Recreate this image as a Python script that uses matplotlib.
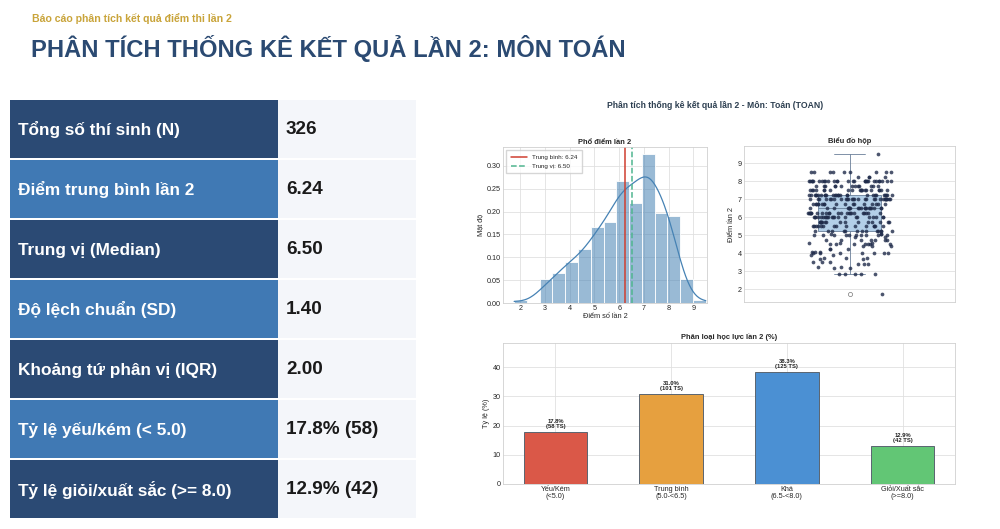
import numpy as np
import matplotlib
matplotlib.use("Agg")
import matplotlib.pyplot as plt
import seaborn as sns
from matplotlib.patches import Rectangle

# ---------------- data ----------------
report_subtitle = "Báo cáo phân tích kết quả điểm thi lần 2"
report_title = "PHÂN TÍCH THỐNG KÊ KẾT QUẢ LẦN 2: MÔN TOÁN"

stat_labels = ["Tổng số thí sinh (N)", "Điểm trung bình lần 2", "Trung vị (Median)",
               "Độ lệch chuẩn (SD)", "Khoảng tứ phân vị (IQR)",
               "Tỷ lệ yếu/kém (< 5.0)", "Tỷ lệ giỏi/xuất sắc (>= 8.0)"]
stat_values = ["326", "6.24", "6.50", "1.40", "2.00", "17.8% (58)", "12.9% (42)"]

score_levels = [1.75, 2.85, 3.2, 3.25, 3.4, 3.5, 3.7, 3.75, 3.9, 4.0, 4.1, 4.25,
                4.4, 4.5, 4.6, 4.75, 4.9, 5.0, 5.1, 5.25, 5.5, 5.75, 6.0, 6.25,
                6.5, 6.75, 7.0, 7.25, 7.5, 7.75, 8.0, 8.25, 8.5, 9.5]
score_counts = [1, 5, 2, 2, 3, 3, 2, 3, 2, 7, 3, 3,
                3, 7, 3, 7, 2, 10, 3, 13, 15, 15, 22, 23,
                20, 17, 28, 27, 20, 13, 28, 4, 9, 1]
mean_score = 6.24
median_score = 6.50

grade_labels = ["Yếu/Kém\n(<5.0)", "Trung bình\n(5.0-<6.5)", "Khá\n(6.5-<8.0)", "Giỏi/Xuất sắc\n(>=8.0)"]
grade_pct = [17.8, 31.0, 38.3, 12.9]
grade_counts = [58, 101, 125, 42]

# ---------------- style ----------------
sns.set_theme(style="whitegrid")
plt.rcParams["font.family"] = ["Liberation Sans", "DejaVu Sans"]
plt.rcParams["axes.edgecolor"] = "#d0d0d0"
plt.rcParams["grid.color"] = "#e0e0e0"
plt.rcParams["axes.linewidth"] = 0.6
plt.rcParams["grid.linewidth"] = 0.6

W, H = 1000, 529
fig = plt.figure(figsize=(10, 5.29), dpi=100)
fig.patch.set_facecolor("white")

# background / slide layer in pixel coordinates
bg = fig.add_axes([0, 0, 1, 1], zorder=0)
bg.set_xlim(0, W)
bg.set_ylim(H, 0)
bg.axis("off")

bg.text(32, 18, report_subtitle, fontsize=7.6, fontweight="bold", color="#c9a43a",
        ha="left", va="center")
bg.text(31, 49, report_title, fontsize=17.1, fontweight="bold", color="#2b4a72",
        ha="left", va="center")

dark, light = "#2b4a74", "#4079b4"
for i, (lab, val) in enumerate(zip(stat_labels, stat_values)):
    top = 100 + 60 * i
    h = 58
    bg.add_patch(Rectangle((10, top), 268, h, facecolor=dark if i % 2 == 0 else light,
                           edgecolor="none"))
    bg.add_patch(Rectangle((278, top), 138, h, facecolor="#f4f6fa", edgecolor="none"))
    bg.text(18, top + h / 2 + 1, lab, fontsize=12.4, fontweight="bold", color="white",
            ha="left", va="center")
    bg.text(286, top + h / 2 + 1, val, fontsize=13.6, fontweight="bold", color="#1a1a1a",
            ha="left", va="center")

fig.text(0.715, 1 - 106 / H, "Phân tích thống kê kết quả lần 2 - Môn: Toán (TOAN)",
         ha="center", va="center", fontsize=6.2, fontweight="bold", color="#2c3e50")

scores = np.repeat(score_levels, score_counts)

tick_fs = 5.2
lab_fs = 5.3
title_fs = 5.4

def px_axes(l, t, r, b):
    return [l / W, 1 - b / H, (r - l) / W, (b - t) / H]

# ---------------- histogram ----------------
ax1 = fig.add_axes(px_axes(503, 147, 707, 303))
sns.histplot(scores, bins=15, stat="density", kde=True, color="steelblue", alpha=0.55,
             edgecolor="white", linewidth=0.6, line_kws={"linewidth": 0.9}, ax=ax1)
ax1.axvline(mean_score, color="#cf3f30", lw=1.1, label=f"Trung bình: {mean_score:.2f}")
ax1.axvline(median_score, color="#4fb58f", lw=1.1, ls="--", label=f"Trung vị: {median_score:.2f}")
ax1.set_xlim(1.3, 9.55)
ax1.set_ylim(0, 0.341)
ax1.set_xticks(range(2, 10))
ax1.set_yticks([0, 0.05, 0.10, 0.15, 0.20, 0.25, 0.30])
ax1.yaxis.set_major_formatter(matplotlib.ticker.FormatStrFormatter("%.2f"))
ax1.set_title("Phổ điểm lần 2", fontsize=title_fs, fontweight="bold", pad=2.5)
ax1.set_xlabel("Điểm số lần 2", fontsize=lab_fs, labelpad=1)
ax1.set_ylabel("Mật độ", fontsize=lab_fs, labelpad=2)
ax1.tick_params(labelsize=tick_fs, pad=1.5, length=0)
ax1.legend(loc="upper left", fontsize=4.5, frameon=True, handlelength=2.6,
           borderpad=0.7, labelspacing=0.6, fancybox=False, edgecolor="#cccccc")

# ---------------- box + strip ----------------
ax2 = fig.add_axes(px_axes(744, 146, 955, 302))
ax2.boxplot(scores, positions=[0], widths=0.3, patch_artist=True, zorder=1,
            boxprops=dict(facecolor="#b3cfe8", edgecolor="#6a7f99", linewidth=0.6),
            whiskerprops=dict(color="#6a7f99", linewidth=0.6),
            capprops=dict(color="#6a7f99", linewidth=0.6),
            medianprops=dict(color="#6a7f99", linewidth=0.6),
            flierprops=dict(marker="o", markerfacecolor="none", markeredgecolor="#777777",
                            markersize=3.0, markeredgewidth=0.5))
sns.stripplot(y=scores, ax=ax2, color="#1f2b4a", size=2.7, jitter=0.2, alpha=0.8, zorder=2)
ax2.set_xlim(-0.5, 0.5)
ax2.set_xticks([])
ax2.set_ylim(1.3, 9.96)
ax2.set_yticks(range(2, 10))
ax2.set_title("Biểu đồ hộp", fontsize=title_fs, fontweight="bold", pad=2.5)
ax2.set_ylabel("Điểm lần 2", fontsize=lab_fs, labelpad=2)
ax2.set_xlabel("")
ax2.tick_params(labelsize=tick_fs, pad=1.5, length=0)

# ---------------- bar chart ----------------
ax3 = fig.add_axes(px_axes(503, 343, 955, 484))
bar_colors = ["#da5848", "#e6a03f", "#4b90d3", "#62c675"]
xpos = np.arange(len(grade_labels))
ax3.bar(xpos, grade_pct, width=0.55, color=bar_colors, edgecolor="#5a6470", linewidth=0.7)
for x, p, c in zip(xpos, grade_pct, grade_counts):
    ax3.text(x, p + 1.0, f"{p:.1f}%\n({c} TS)", ha="center", va="bottom",
             fontsize=4.2, fontweight="bold", color="#222222", linespacing=1.0)
ax3.set_xticks(xpos)
ax3.set_xticklabels(grade_labels, fontsize=tick_fs, linespacing=1.0)
ax3.set_ylim(0, 48.3)
ax3.set_yticks([0, 10, 20, 30, 40])
ax3.set_title("Phân loại học lực lần 2 (%)", fontsize=title_fs, fontweight="bold", pad=3)
ax3.set_ylabel("Tỷ lệ (%)", fontsize=lab_fs, labelpad=2)
ax3.tick_params(labelsize=tick_fs, pad=1.5, length=0)

fig.savefig("out.png", dpi=100)
